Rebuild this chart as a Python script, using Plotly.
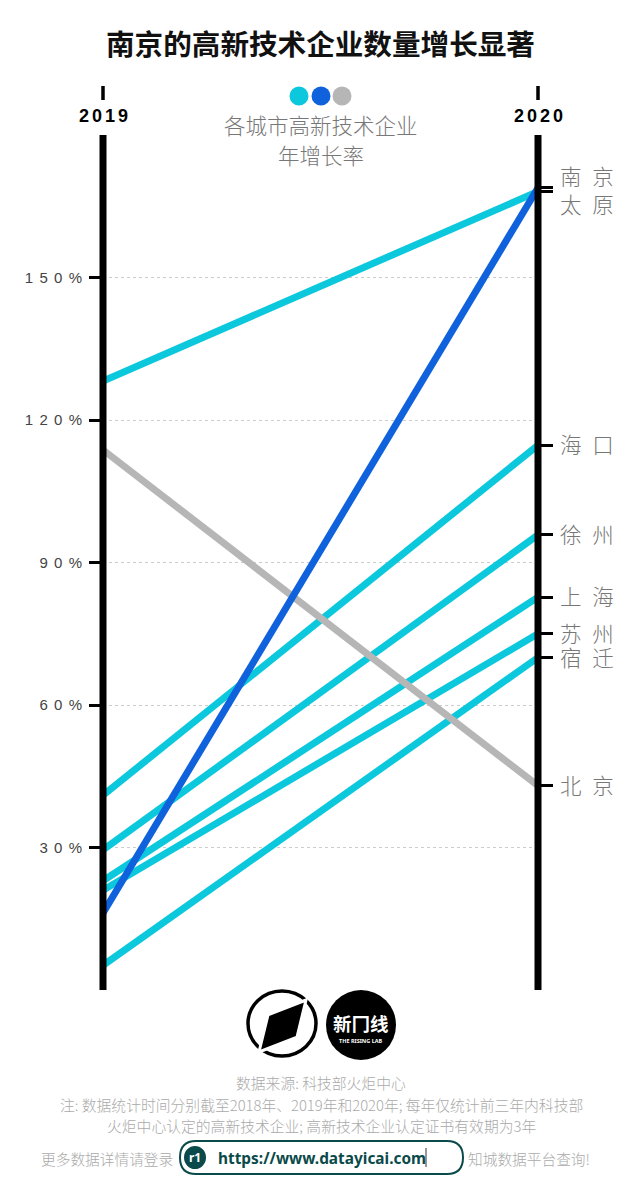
import plotly.graph_objects as go

W, H = 641, 1204
L, R, T, B = 103, 538, 135, 990

title = "南京的高新技术企业数量增长显著"
years = [2019, 2020]
cities = ["太原", "海口", "徐州", "上海", "苏州", "宿迁", "北京", "南京"]
v2019 = [128.2, 41.0, 29.5, 23.0, 21.0, 5.2, 113.7, 16.2]
v2020 = [168.1, 114.7, 95.8, 82.7, 75.0, 70.0, 43.0, 168.9]
groups = ["up", "up", "up", "up", "up", "up", "down", "top"]
label_shift = [-11.5, 1.5, 1.5, 1.5, 1.5, 1.5, 1.5, 12.5]
y_ticks = [30, 60, 90, 120, 150]
SP = "\u2004\u200a"
y_tick_text = [SP.join("30%"), SP.join("60%"), SP.join("90%"), SP.join("120%"), SP.join("150%")]
year_text = ["\u2006".join("2019"), "\u2006".join("2020")]
legend_lines = ["各城市高新技术企业", "年增长率"]
source_lines = ["数据来源: 科技部火炬中心",
                "注: 数据统计时间分别截至2018年、2019年和2020年; 每年仅统计前三年内科技部",
                "火炬中心认定的高新技术企业; 高新技术企业认定证书有效期为3年"]
url_text = "https://www.datayicai.com"
url_left = "更多数据详情请登录"
url_right = "知城数据平台查询!"

CYAN, BLUE, GRAY = "#0CC8DC", "#0F62DC", "#B6B6B6"
colors = {"up": CYAN, "top": BLUE, "down": GRAY}
CJK = "Noto Sans CJK SC"
NUM = "Liberation Sans, sans-serif"
TEAL = "#0B4A4A"

def px(x): return (x - L) / (R - L)
def py(y): return (B - y) / (B - T)
def P(x, y, text, size, color, family=CJK, anchor="center", weight=None):
    f = dict(family=family, size=size, color=color)
    if weight: f["weight"] = weight
    return dict(xref="paper", yref="paper", x=px(x), y=py(y), text=text, showarrow=False,
                xanchor=anchor, yanchor="middle", font=f, align="center")

fig = go.Figure()
order = sorted(range(len(cities)), key=lambda i: {"up": 0, "down": 1, "top": 2}[groups[i]])
for i in order:
    fig.add_trace(go.Scatter(x=years, y=[v2019[i], v2020[i]], mode="lines", name=cities[i], yaxis="y2",
                             line=dict(color=colors[groups[i]], width=7), cliponaxis=False, showlegend=False))
fig.add_trace(go.Scatter(x=years, y=y_ticks[:2], mode="markers", marker=dict(opacity=0), yaxis="y", showlegend=False))

shapes = []
for edge in [0, 1]:
    shapes.append(dict(type="line", xref="paper", yref="paper", x0=edge, x1=edge, y0=0, y1=1, layer="above",
                       line=dict(color="black", width=7)))
    shapes.append(dict(type="line", xref="paper", yref="paper", x0=edge, x1=edge, y0=py(86), y1=py(100),
                       line=dict(color="black", width=3.5)))
for x, c in zip([299, 321, 342], [CYAN, BLUE, GRAY]):
    shapes.append(dict(type="circle", xref="paper", yref="paper", x0=px(x-9.5), x1=px(x+9.5), y0=py(86.5), y1=py(105.5),
                       fillcolor=c, line=dict(width=0)))
# logos
shapes.append(dict(type="circle", xref="paper", yref="paper", x0=px(248), x1=px(316), y0=py(991), y1=py(1056),
                   line=dict(color="black", width=3.5)))
def poly(pts):
    return "M " + " L ".join(f"{px(a):.4f},{py(b):.4f}" for a, b in pts) + " Z"
shapes.append(dict(type="path", xref="paper", yref="paper", path=poly([(306, 1000), (268, 1015), (259, 1052), (297, 1037)]),
                   fillcolor="black", line=dict(color="white", width=3)))
shapes.append(dict(type="circle", xref="paper", yref="paper", x0=px(326), x1=px(396), y0=py(990), y1=py(1060),
                   fillcolor="black", line=dict(width=0)))
# url box
shapes.append(dict(type="path", xref="paper", yref="paper",
                  path=(f"M {px(196):.4f},{py(1141):.4f} L {px(447):.4f},{py(1141):.4f} "
                        f"Q {px(463):.4f},{py(1141):.4f} {px(463):.4f},{py(1157.5):.4f} "
                        f"Q {px(463):.4f},{py(1174):.4f} {px(447):.4f},{py(1174):.4f} "
                        f"L {px(196):.4f},{py(1174):.4f} "
                        f"Q {px(180):.4f},{py(1174):.4f} {px(180):.4f},{py(1157.5):.4f} "
                        f"Q {px(180):.4f},{py(1141):.4f} {px(196):.4f},{py(1141):.4f} Z"),
                  line=dict(color=TEAL, width=2)))
shapes.append(dict(type="circle", xref="paper", yref="paper", x0=px(184), x1=px(206), y0=py(1146), y1=py(1169),
                   fillcolor=TEAL, line=dict(width=0)))
shapes.append(dict(type="line", xref="paper", yref="paper", x0=px(426), x1=px(426), y0=py(1148), y1=py(1167),
                   line=dict(color="#333", width=1)))

ann = [P(320.5, 43, title, 28.6, "#111", weight=700),
       P(321, 125, legend_lines[0], 21.5, "#777", weight=300),
       P(321, 154, legend_lines[1], 21.5, "#777", weight=300),
       P(321, 1082.5, source_lines[0], 14.8, "#aaa", weight=300),
       P(321, 1104, source_lines[1], 14.8, "#aaa", weight=300),
       P(321, 1125, source_lines[2], 14.8, "#aaa", weight=300),
       P(107, 1158, url_left, 14.7, "#aaa", weight=300),
       P(529, 1158, url_right, 14.7, "#aaa", weight=300),
       P(216, 1158, url_text, 15.4, TEAL, family="Noto Sans", anchor="left", weight=700),
       P(195, 1157, "r1", 12, "white", family="Noto Sans", weight=700),
       P(361, 1023, "新冂线", 18.5, "white", weight=700),
       P(361, 1041, "THE RISING LAB", 5.5, "white", family="Noto Sans", weight=700)]
for yr, t in zip(years, year_text):
    ann.append(dict(xref="x", yref="paper", x=yr, y=py(116), text=t, showarrow=False, yanchor="middle",
                    font=dict(family=NUM, size=18, color="black", weight=700)))
for c, v, s in zip(cities, v2020, label_shift):
    ann.append(dict(xref="x", yref="y", x=2020, y=v, yshift=s, xshift=20, xanchor="left", yanchor="middle",
                    text=c[0] + "\u2002" + c[1], showarrow=False, font=dict(family=CJK, size=21.5, color="#777", weight=300)))

fig.update_layout(
    width=W, height=H, autosize=False, paper_bgcolor="white", plot_bgcolor="white",
    margin=dict(l=L, r=W-R, t=T, b=H-B, pad=0), showlegend=False,
    shapes=shapes, annotations=ann,
    xaxis=dict(range=years, showgrid=False, zeroline=False, showline=False, showticklabels=False, ticks="", tickvals=years),
    yaxis=dict(range=[0, 180], tickvals=y_ticks, ticktext=y_tick_text, ticks="outside", ticklen=13, tickwidth=3,
               tickcolor="black", showgrid=True, gridcolor="#cccccc", griddash="dot", gridwidth=1,
               zeroline=False, showline=False, ticklabelstandoff=4,
               tickfont=dict(family=NUM, size=15, color="#444")),
    yaxis2=dict(range=[0, 180], overlaying="y", side="right", anchor="x", tickvals=v2020, showticklabels=False,
                ticks="outside", ticklen=14, tickwidth=3, tickcolor="black", showgrid=False, zeroline=False, showline=False),
)
fig.write_html("out.html", config=dict(displayModeBar=False), post_script="document.body.style.margin='0';")
